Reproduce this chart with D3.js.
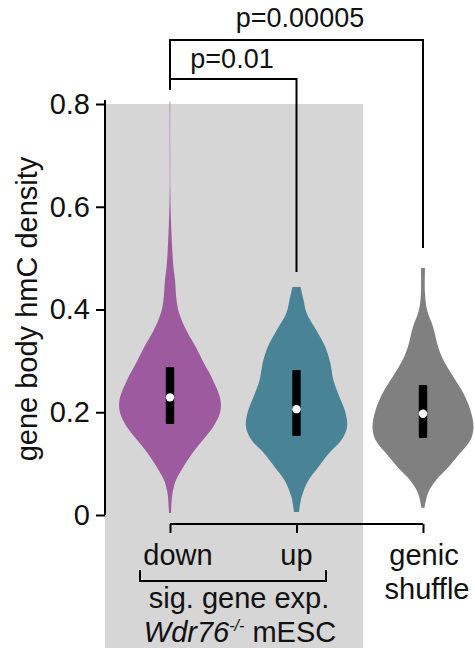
<!DOCTYPE html>
<html>
<head>
<meta charset="utf-8">
<script src="https://cdn.jsdelivr.net/npm/d3@7"></script>
<style>
  html, body { margin: 0; padding: 0; background: #fff; }
  svg { display: block; }
  text { font-family: "Liberation Sans", Arial, Helvetica, sans-serif; fill: #111; }
</style>
</head>
<body>
<svg id="chart" width="475" height="648"></svg>
<script>
// Groups along the x axis
const categories = ["down", "up", "genic shuffle"];
const colors = ["#9d5a9e", "#488396", "#808080"];

// Kernel density profiles: value (hmC density) and relative density (max = 1)
const downValues  = [0.004, 0.043, 0.068, 0.093, 0.121, 0.146, 0.171, 0.199, 0.224, 0.263, 0.296, 0.327, 0.360, 0.393, 0.418, 0.457, 0.481, 0.526, 0.613, 0.710, 0.806];
const downDensity = [0.02, 0.05, 0.12, 0.26, 0.45, 0.65, 0.85, 0.99, 1.00, 0.85, 0.67, 0.51, 0.32, 0.18, 0.13, 0.10, 0.07, 0.04, 0.008, 0.004, 0.006];

const upValues  = [0.006, 0.035, 0.068, 0.093, 0.121, 0.146, 0.171, 0.199, 0.230, 0.263, 0.296, 0.327, 0.360, 0.393, 0.418, 0.444];
const upDensity = [0.05, 0.10, 0.24, 0.43, 0.65, 0.89, 1.00, 0.97, 0.85, 0.73, 0.67, 0.57, 0.39, 0.20, 0.14, 0.08];

const shuffleValues  = [0.014, 0.043, 0.068, 0.093, 0.121, 0.146, 0.171, 0.204, 0.237, 0.269, 0.302, 0.327, 0.366, 0.399, 0.432, 0.481];
const shuffleDensity = [0.03, 0.10, 0.26, 0.50, 0.74, 0.94, 1.00, 0.94, 0.80, 0.60, 0.40, 0.30, 0.20, 0.08, 0.04, 0.04];

// Box summaries: lower quartile, median, upper quartile
const q1Values     = [0.177, 0.154, 0.150];
const medianValues = [0.229, 0.206, 0.197];
const q3Values     = [0.288, 0.282, 0.253];

// Axis ticks
const yTicks = [0, 0.2, 0.4, 0.6, 0.8];
const yTickLabels = ["0", "0.2", "0.4", "0.6", "0.8"];

// Pairwise comparisons
const pLabels = ["p=0.01", "p=0.00005"];

const profiles = [
  { values: downValues, density: downDensity },
  { values: upValues, density: upDensity },
  { values: shuffleValues, density: shuffleDensity }
];

const svg = d3.select("#chart");

const y = d3.scaleLinear().domain([0, 0.8]).range([515, 104]);
const x = d3.scalePoint().domain(categories).range([170, 423]);
const w = d3.scaleLinear().domain([0, 1]).range([0, 50.5]);

const labelSize = 29;

// Shaded panel behind the differentially expressed groups
svg.append("rect")
  .attr("x", 105).attr("y", 104)
  .attr("width", 258).attr("height", 544)
  .attr("fill", "#d6d6d6");

// Y axis
const yAxis = d3.axisLeft(y)
  .tickValues(yTicks)
  .tickFormat((d, i) => yTickLabels[i])
  .tickSize(9)
  .tickPadding(6);

const gy = svg.append("g")
  .attr("transform", "translate(105,0)")
  .call(yAxis);
gy.select(".domain").attr("d", `M0,${y(0.8) - 4}V${y(0)}`).attr("stroke", "#000").attr("stroke-width", 2);
gy.selectAll(".tick line").attr("stroke", "#000").attr("stroke-width", 2);
gy.selectAll(".tick text")
  .attr("font-family", "Liberation Sans, Arial, sans-serif")
  .attr("font-size", labelSize)
  .attr("fill", "#111");

svg.append("text")
  .attr("transform", "translate(37,309) rotate(-90)")
  .attr("text-anchor", "middle")
  .attr("font-size", labelSize)
  .text("gene body hmC density");

// Violins
const area = d3.area()
  .curve(d3.curveCatmullRom)
  .y(d => y(d[0]));

profiles.forEach((p, i) => {
  const cx = x(categories[i]);
  const pts = p.values.map((v, j) => [v, p.density[j]]);
  svg.append("path")
    .datum(pts)
    .attr("fill", colors[i])
    .attr("d", area.x0(d => cx - w(d[1])).x1(d => cx + w(d[1])));
});

// Interquartile boxes and medians
categories.forEach((c, i) => {
  const cx = x(c);
  svg.append("rect")
    .attr("x", cx - 4.2).attr("width", 8.4)
    .attr("y", y(q3Values[i]))
    .attr("height", y(q1Values[i]) - y(q3Values[i]))
    .attr("rx", 1)
    .attr("fill", "#000");
  svg.append("circle")
    .attr("cx", cx).attr("cy", y(medianValues[i]))
    .attr("r", 4.2)
    .attr("fill", "#fff");
});

// X axis: a bar joining the three groups with a tick under each
const xAxis = d3.axisBottom(x).tickSize(9).tickFormat("");
const gx = svg.append("g")
  .attr("transform", "translate(0,524)")
  .call(xAxis);
gx.select(".domain").attr("d", `M${x(categories[0])},0H${x(categories[2])}`).attr("stroke", "#000").attr("stroke-width", 2);
gx.selectAll(".tick line").attr("stroke", "#000").attr("stroke-width", 2);

svg.append("text").attr("x", 178).attr("y", 565).attr("text-anchor", "middle").attr("font-size", labelSize).text("down");
svg.append("text").attr("x", x("up")).attr("y", 565).attr("text-anchor", "middle").attr("font-size", labelSize).text("up");
svg.append("text").attr("x", 424).attr("y", 565).attr("text-anchor", "middle").attr("font-size", labelSize).text("genic");
svg.append("text").attr("x", 427).attr("y", 599).attr("text-anchor", "middle").attr("font-size", labelSize).text("shuffle");

// Group bracket under down / up
svg.append("path")
  .attr("d", "M140,570V581H326V570")
  .attr("fill", "none").attr("stroke", "#000").attr("stroke-width", 2);

svg.append("text").attr("x", 239).attr("y", 608).attr("text-anchor", "middle").attr("font-size", labelSize).text("sig. gene exp.");

const sub = svg.append("text").attr("x", 240).attr("y", 642).attr("text-anchor", "middle").attr("font-size", labelSize);
sub.append("tspan").attr("font-style", "italic").text("Wdr76");
sub.append("tspan").attr("font-style", "italic").attr("font-size", 16).attr("dy", -11).text("-/-");
sub.append("tspan").attr("dy", 11).text(" mESC");

// Significance brackets
const sig = svg.append("g").attr("fill", "none").attr("stroke", "#000").attr("stroke-width", 2);
sig.append("path").attr("d", `M${x("down")},90V79H${x("up")}V272`);
sig.append("path").attr("d", `M${x("down")},79V40H${x("genic shuffle")}V248`);

svg.append("text").attr("x", 232).attr("y", 68).attr("text-anchor", "middle").attr("font-size", 27).text(pLabels[0]);
svg.append("text").attr("x", 300).attr("y", 27).attr("text-anchor", "middle").attr("font-size", 27).text(pLabels[1]);
</script>
</body>
</html>
